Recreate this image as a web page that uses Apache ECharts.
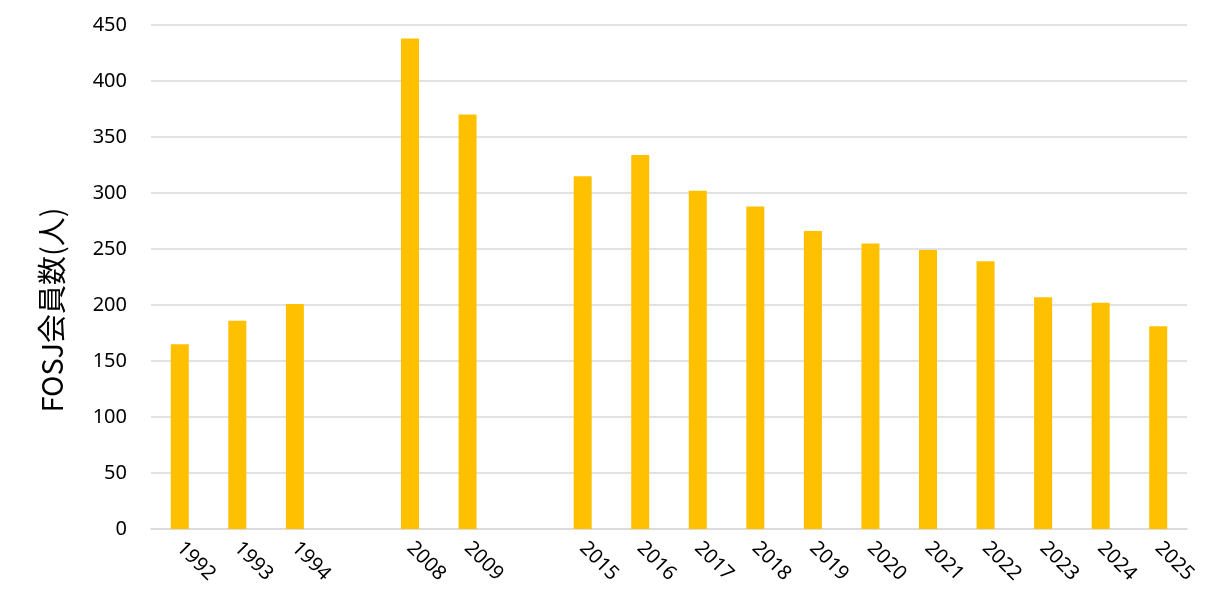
<!DOCTYPE html>
<html>
<head>
<meta charset="utf-8">
<script src="https://cdn.jsdelivr.net/npm/echarts@6/dist/echarts.min.js"></script>
<style>html,body{margin:0;padding:0;background:#fff;}#c{width:1214px;height:608px;}</style>
</head>
<body>
<div id="c"></div>
<script>
const categories = ['1992','1993','1994','','2008','2009','','2015','2016','2017','2018','2019','2020','2021','2022','2023','2024','2025'];
const members = [165,186,201,null,438,370,null,315,334,302,288,266,255,249,239,207,202,181];
const yTicks = [0,50,100,150,200,250,300,350,400,450];
const yTitle = 'FOSJ会員数(人)';

const chart = echarts.init(document.getElementById('c'));
chart.setOption({
  animation: false,
  backgroundColor: '#fff',
  grid: {left: 151, right: 27, top: 25, bottom: 79, containLabel: false},
  graphic: [{
    type: 'text',
    x: 52, y: 310,
    rotation: Math.PI / 2,
    style: {
      text: yTitle,
      fill: '#000',
      fontSize: 29,
      fontFamily: 'Noto Sans CJK JP, sans-serif',
      align: 'center',
      verticalAlign: 'middle'
    }
  }],
  xAxis: {
    type: 'category',
    data: categories,
    axisLine: {show: true, lineStyle: {color: '#D9D9D9', width: 1.5}},
    axisTick: {show: false},
    axisLabel: {interval: 0, rotate: -45, margin: 16, color: '#000', fontSize: 20, fontFamily: 'Noto Sans, sans-serif'}
  },
  yAxis: {
    type: 'value',
    min: yTicks[0], max: yTicks[yTicks.length-1], interval: 50,
    axisLine: {show: false},
    axisTick: {show: false},
    axisLabel: {color: '#000', fontSize: 20, margin: 24, fontFamily: 'Noto Sans, sans-serif'},
    splitLine: {lineStyle: {color: '#D9D9D9', width: 1.5}}
  },
  series: [{
    type: 'bar',
    data: members,
    barWidth: 18,
    itemStyle: {color: '#FFC000'}
  }]
});
</script>
</body>
</html>
